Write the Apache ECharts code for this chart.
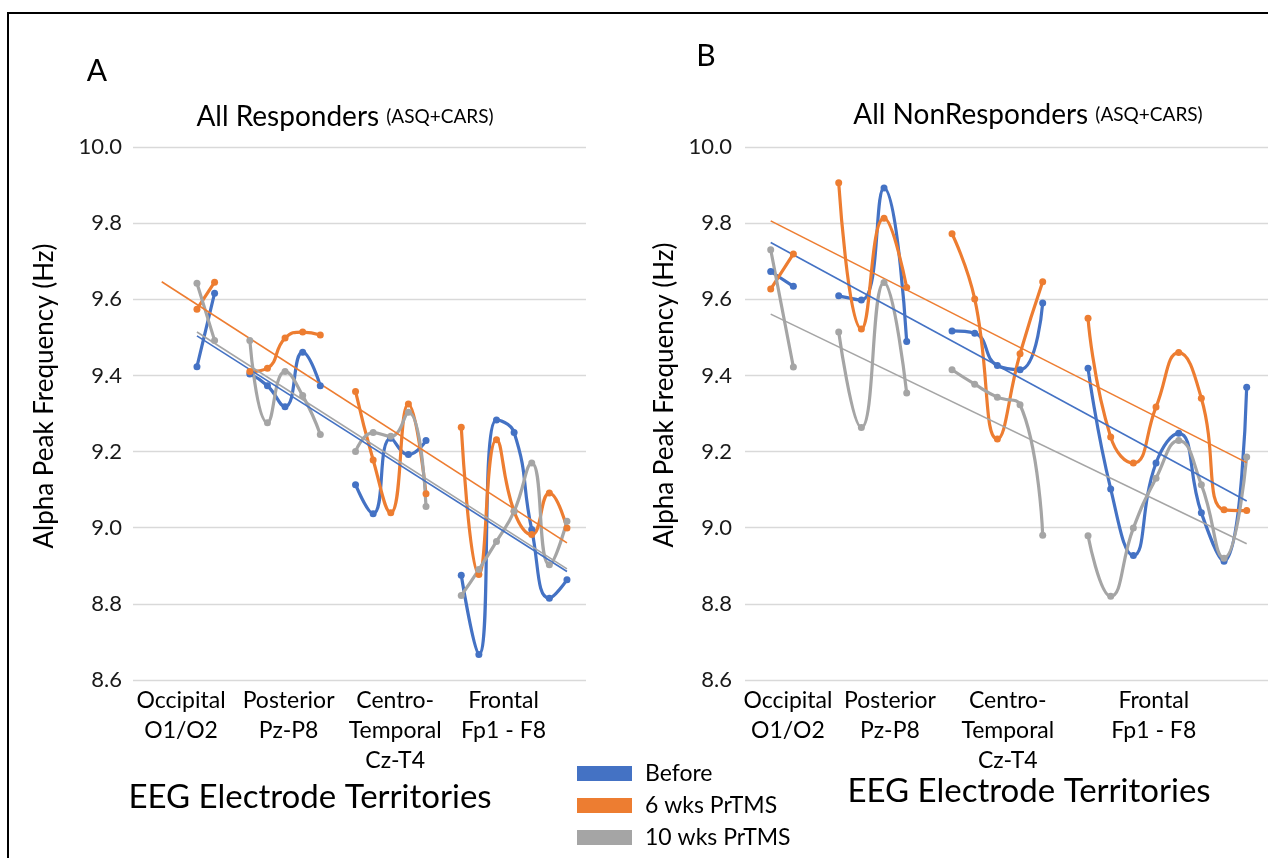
<!DOCTYPE html>
<html>
<head>
<meta charset="utf-8">
<script src="https://cdn.jsdelivr.net/npm/echarts@6/dist/echarts.min.js"></script>
<style>
  html, body { margin: 0; padding: 0; background: #fff; }
  #main { width: 1268px; height: 858px; }
</style>
</head>
<body>
<div id="main"></div>
<script>
// series names + colours (Excel default palette)
const seriesNames = ["Before", "6 wks PrTMS", "10 wks PrTMS"];
const colors = ["#4472C4", "#ED7D31", "#A5A5A5"];
const territoryLabels = ["Occipital\nO1/O2", "Posterior\nPz-P8", "Centro-\nTemporal\nCz-T4", "Frontal\nFp1 - F8"];
const yTicks = [8.6, 10.0];

// A: All Responders, one value per electrode, null = gap between territories
const respBefore = [9.423, 9.616, null, 9.404, 9.373, 9.318, 9.461, 9.373, null, 9.113, 9.037, 9.235, 9.192, 9.229, null, 8.875, 8.667, 9.283, 9.250, 8.995, 8.815, 8.863];
const respSixWks = [9.574, 9.645, null, 9.410, 9.419, 9.498, 9.514, 9.506, null, 9.358, 9.178, 9.039, 9.325, 9.089, null, 9.264, 8.877, 9.231, 9.043, 8.982, 9.091, 8.999];
const respTenWks = [9.642, 9.492, null, 9.492, 9.276, 9.410, 9.347, 9.245, null, 9.200, 9.250, 9.240, 9.303, 9.056, null, 8.822, 8.890, 8.964, 9.043, 9.170, 8.903, 9.017];
// linear trend lines (start / end)
const respTrendBefore = [[0, 9.504], [21, 8.885]];
const respTrendSixWks = [[-2, 9.646], [21, 8.960]];
const respTrendTenWks = [[0, 9.514], [21, 8.892]];
const respLabelAt = [-0.9, 5.2, 11.25, 17.4];

// B: All NonResponders
const nonBefore = [9.673, 9.634, null, 9.609, 9.598, 9.892, 9.489, null, 9.517, 9.511, 9.426, 9.415, 9.590, null, 9.419, 9.102, 8.927, 9.170, 9.248, 9.039, 8.912, 9.369];
const nonSixWks = [9.627, 9.719, null, 9.906, 9.522, 9.813, 9.631, null, 9.772, 9.601, 9.233, 9.457, 9.646, null, 9.550, 9.238, 9.170, 9.317, 9.460, 9.340, 9.047, 9.045];
const nonTenWks = [9.730, 9.422, null, 9.514, 9.263, 9.644, 9.354, null, 9.415, 9.377, 9.343, 9.323, 8.980, null, 8.979, 8.820, 8.999, 9.130, 9.229, 9.113, 8.920, 9.186];
const nonTrendBefore = [[0, 9.749], [21, 9.070]];
const nonTrendSixWks = [[0, 9.806], [21, 9.171]];
const nonTrendTenWks = [[0, 9.561], [21, 8.958]];
const nonLabelAt = [0.76, 5.26, 10.46, 16.9];

const FONT = "Lato, sans-serif";

function toPairs(arr) {
  return arr.map(function (v, i) { return [i, v == null ? "-" : v]; });
}

function xAxisFor(gridIndex, min, max, labelAt) {
  return {
    type: "value",
    gridIndex: gridIndex,
    min: min,
    max: max,
    axisLine: { show: false },
    axisTick: { show: false },
    splitLine: { show: false },
    axisLabel: {
      customValues: labelAt,
      formatter: function (v) {
        let k = labelAt.findIndex(function (p) { return Math.abs(p - v) < 1e-6; });
        return k < 0 ? "" : territoryLabels[k];
      },
      fontFamily: FONT,
      fontSize: 23,
      lineHeight: 30,
      margin: 6,
      color: "#000",
      verticalAlign: "top"
    }
  };
}

function yAxisFor(gridIndex, margin) {
  return {
    type: "value",
    gridIndex: gridIndex,
    min: yTicks[0],
    max: yTicks[1],
    interval: 0.2,
    axisLine: { show: false },
    axisTick: { show: false },
    splitLine: { lineStyle: { color: "#D9D9D9", width: 1.3 } },
    axisLabel: {
      formatter: function (v) { return v.toFixed(1); },
      fontFamily: FONT,
      fontSize: 22,
      margin: margin,
      color: "#1a1a1a"
    }
  };
}

function dataSeries(name, data, idx, color) {
  return {
    name: name,
    type: "line",
    xAxisIndex: idx,
    yAxisIndex: idx,
    data: toPairs(data),
    smooth: true,
    connectNulls: false,
    symbol: "circle",
    symbolSize: 7,
    itemStyle: { color: color },
    lineStyle: { color: color, width: 3.2 }
  };
}

function trendSeries(name, data, idx, color) {
  return {
    name: name + " trend",
    type: "line",
    xAxisIndex: idx,
    yAxisIndex: idx,
    data: data,
    symbol: "none",
    silent: true,
    itemStyle: { color: color },
    lineStyle: { color: color, width: 1.6 }
  };
}

var titleRich = {
  a: { fontFamily: FONT, fontSize: 28, fill: "#000" },
  b: { fontFamily: FONT, fontSize: 19, fill: "#000" }
};

var myChart = echarts.init(document.getElementById("main"));
myChart.setOption({
  animation: false,
  backgroundColor: "#fff",
  grid: [
    { left: 133, top: 147, width: 453, height: 533 },
    { left: 745, top: 147, width: 523, height: 533 }
  ],
  xAxis: [
    xAxisFor(0, -3.63, 22.08, respLabelAt),
    xAxisFor(1, -1.134, 21.94, nonLabelAt)
  ],
  yAxis: [yAxisFor(0, 11), yAxisFor(1, 13)],
  legend: {
    data: seriesNames,
    orient: "vertical",
    left: 577,
    top: 762,
    padding: 0,
    icon: "rect",
    itemWidth: 55,
    itemHeight: 15,
    itemGap: 9,
    textStyle: { fontFamily: FONT, fontSize: 23, color: "#000", padding: [0, 0, 0, 8] }
  },
  graphic: [
    // frame
    { type: "polyline", shape: { points: [[8, 858], [8, 13], [1268, 13]] }, style: { stroke: "#000", lineWidth: 2, fill: null } },
    { type: "text", style: { text: "A", x: 97, y: 71, align: "center", verticalAlign: "middle", font: "30px " + FONT, fill: "#000" } },
    { type: "text", style: { text: "B", x: 706, y: 56, align: "center", verticalAlign: "middle", font: "30px " + FONT, fill: "#000" } },
    {
      type: "text",
      style: { text: "{a|All Responders }{b|(ASQ+CARS)}", x: 345, y: 117, align: "center", verticalAlign: "middle", rich: titleRich }
    },
    {
      type: "text",
      style: { text: "{a|All NonResponders }{b|(ASQ+CARS)}", x: 1028, y: 115, align: "center", verticalAlign: "middle", rich: titleRich }
    },
    { type: "text", x: 45, y: 396, rotation: Math.PI / 2, style: { text: "Alpha Peak Frequency (Hz)", x: 0, y: 0, align: "center", verticalAlign: "middle", font: "26px " + FONT, fill: "#000" } },
    { type: "text", x: 665, y: 395, rotation: Math.PI / 2, style: { text: "Alpha Peak Frequency (Hz)", x: 0, y: 0, align: "center", verticalAlign: "middle", font: "26px " + FONT, fill: "#000" } },
    { type: "text", style: { text: "EEG Electrode Territories", x: 310, y: 797, align: "center", verticalAlign: "middle", font: "33px " + FONT, fill: "#000" } },
    { type: "text", style: { text: "EEG Electrode Territories", x: 1029, y: 791, align: "center", verticalAlign: "middle", font: "33px " + FONT, fill: "#000" } }
  ],
  series: [
    dataSeries(seriesNames[0], respBefore, 0, colors[0]),
    dataSeries(seriesNames[1], respSixWks, 0, colors[1]),
    dataSeries(seriesNames[2], respTenWks, 0, colors[2]),
    trendSeries(seriesNames[0], respTrendBefore, 0, colors[0]),
    trendSeries(seriesNames[1], respTrendSixWks, 0, colors[1]),
    trendSeries(seriesNames[2], respTrendTenWks, 0, colors[2]),
    dataSeries(seriesNames[0], nonBefore, 1, colors[0]),
    dataSeries(seriesNames[1], nonSixWks, 1, colors[1]),
    dataSeries(seriesNames[2], nonTenWks, 1, colors[2]),
    trendSeries(seriesNames[0], nonTrendBefore, 1, colors[0]),
    trendSeries(seriesNames[1], nonTrendSixWks, 1, colors[1]),
    trendSeries(seriesNames[2], nonTrendTenWks, 1, colors[2])
  ]
});
</script>
</body>
</html>
